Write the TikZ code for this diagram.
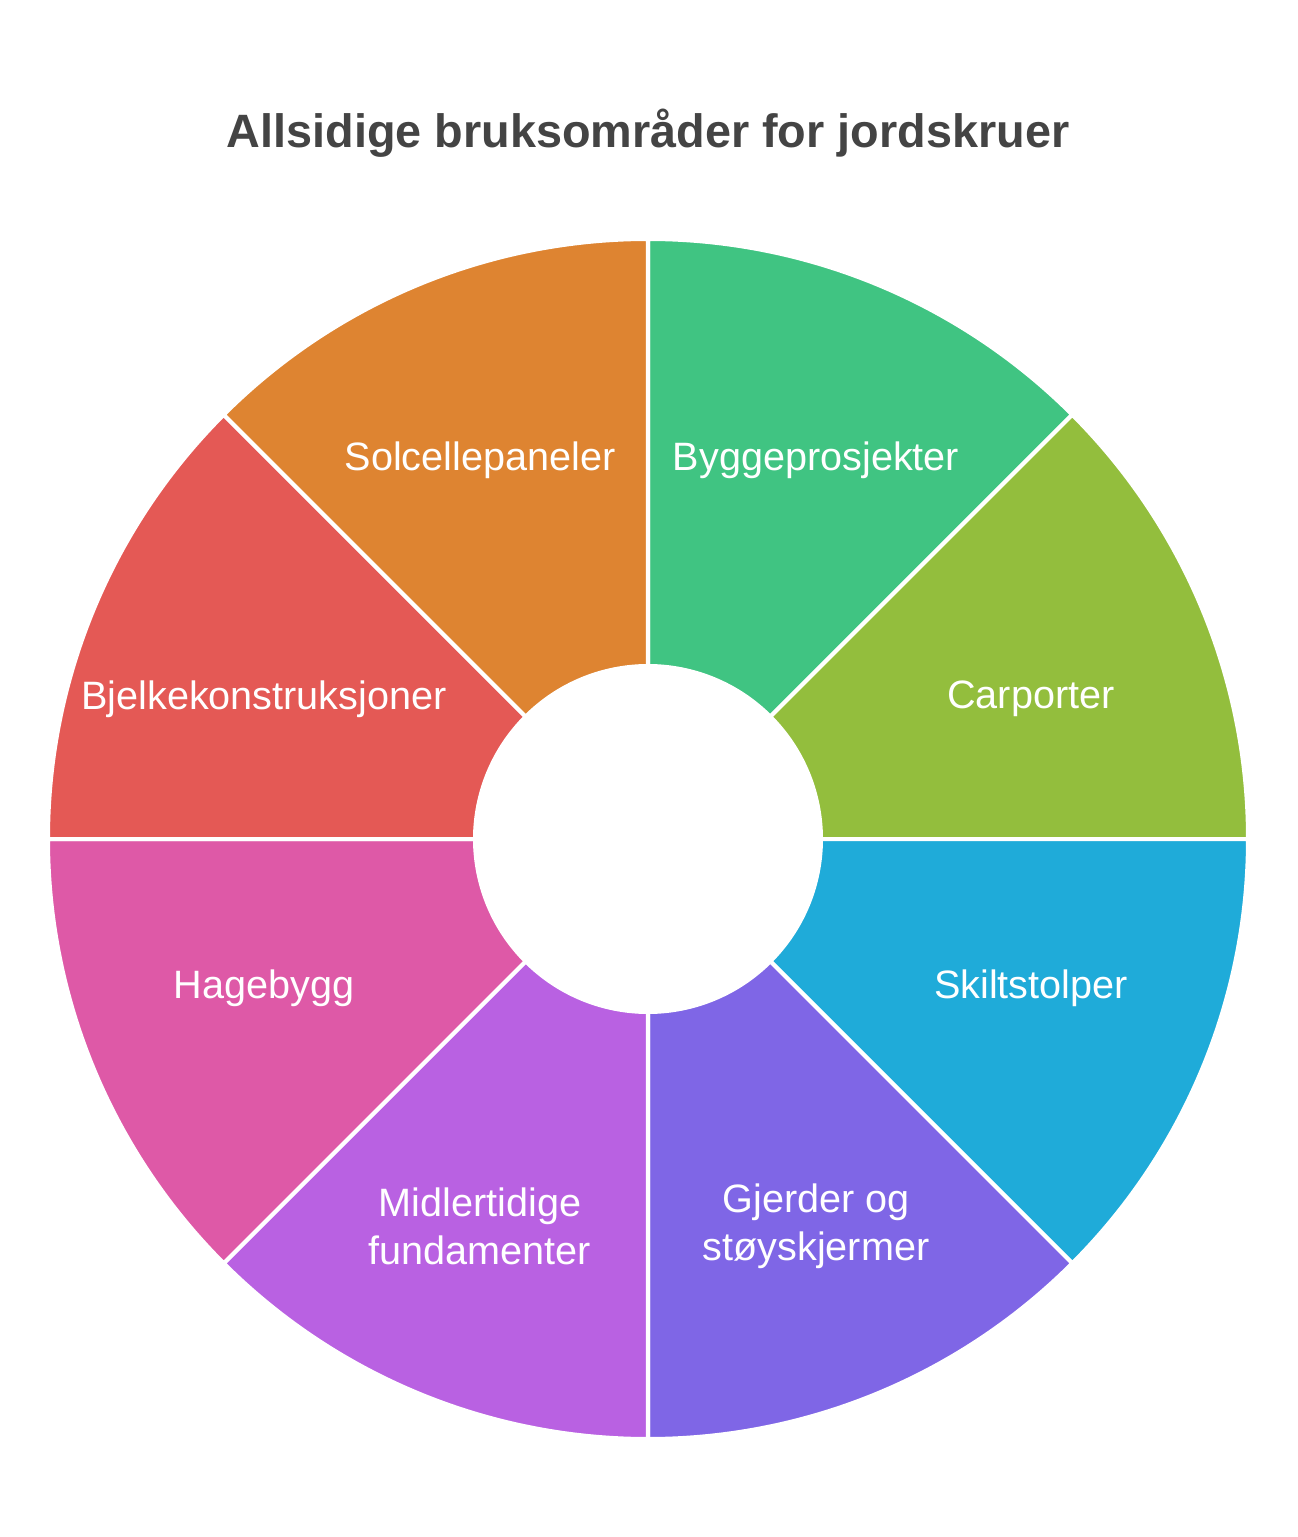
\documentclass[tikz,border=0pt]{standalone}
\usepackage{fontspec}
\setmainfont{Liberation Sans}
\definecolor{cBygg}{HTML}{40C482}
\definecolor{cCarp}{HTML}{93BE3D}
\definecolor{cSkilt}{HTML}{1FABD9}
\definecolor{cGjerd}{HTML}{7F66E6}
\definecolor{cMidl}{HTML}{B961E2}
\definecolor{cHage}{HTML}{DE59A7}
\definecolor{cBjelk}{HTML}{E45955}
\definecolor{cSolc}{HTML}{DE8431}
\definecolor{cTitle}{HTML}{444444}
\tikzset{
  wedge/.style={draw=white,line width=2pt,line join=miter},
  wlabel/.style={text=white,align=center,inner sep=0pt,font=\fontsize{19.8}{24}\selectfont},
  headline/.style={text=cTitle,inner sep=0pt,font=\fontsize{23.4}{28}\selectfont\bfseries}
}
\begin{document}
\begin{tikzpicture}[x=0.5pt,y=0.5pt]
 \useasboundingbox (-648,-698) rectangle (649,839);
 \node[headline] (title) at (0,706) {Allsidige bruksområder for jordskruer};
 %% ring: eight 45-degree wedges, starting at the right and going clockwise
 \foreach \a/\c in {45/cBygg,0/cCarp,-45/cSkilt,-90/cGjerd,-135/cMidl,-180/cHage,135/cBjelk,90/cSolc}{
   \fill[\c,wedge] (\a:173) -- (\a:600) arc[start angle=\a,end angle=\a+45,radius=600]
     -- (\a+45:173) arc[start angle=\a+45,end angle=\a,radius=173] -- cycle;
 }
 %% labels
 \foreach \n/\x/\y/\t in {bygg/168/379/Byggeprosjekter,carp/383/140/Carporter,
   skilt/383/-149/Skiltstolper,gjerd/168/-387/{Gjerder og\\støyskjermer},
   midl/-168/-387/{Midlertidige\\fundamenter},hage/-384/-149/Hagebygg,
   bjelk/-384/140/Bjelkekonstruksjoner,solc/-168/379/Solcellepaneler}{
   \node[wlabel] (\n) at (\x,\y) {\t};
 }
\end{tikzpicture}
\end{document}
